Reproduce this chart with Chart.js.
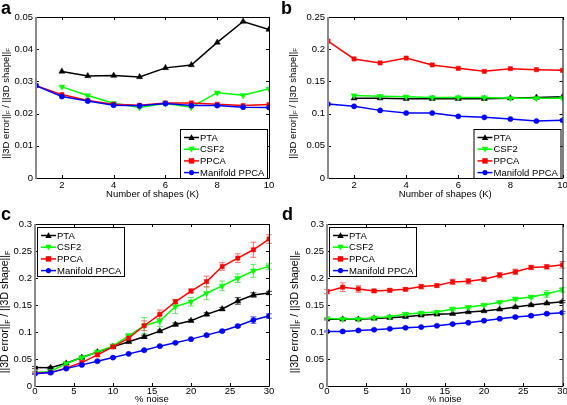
<!DOCTYPE html>
<html>
<head>
<meta charset="utf-8">
<script src="https://cdn.jsdelivr.net/npm/chart.js@4.4.1/dist/chart.umd.min.js"></script>
<style>
  body { margin: 0; width: 567px; height: 405px; position: relative; overflow: hidden; background: #fff;
         font-family: "Liberation Sans", Arial, sans-serif; color: #000; }
  .panel { position: absolute; }
  .tag { position: absolute; font-weight: bold; font-size: 18px; line-height: 16px; }
  .ytitle { position: absolute; width: 170px; text-align: center; white-space: nowrap;
            transform: rotate(-90deg); transform-origin: 50% 50%; }
  .ytitle sub { font-size: 65%; vertical-align: -0.3em; }
</style>
</head>
<body>
<div class="panel" style="left:0;top:0"><canvas id="chartA" width="283" height="200"></canvas></div>
<div class="panel" style="left:283px;top:0"><canvas id="chartB" width="284" height="200"></canvas></div>
<div class="panel" style="left:0;top:200px"><canvas id="chartC" width="283" height="205"></canvas></div>
<div class="panel" style="left:283px;top:200px"><canvas id="chartD" width="284" height="205"></canvas></div>

<div class="tag" style="left:1px;top:0">a</div>
<div class="tag" style="left:281px;top:0">b</div>
<div class="tag" style="left:1px;top:206px">c</div>
<div class="tag" style="left:282px;top:206px">d</div>

<div class="ytitle" style="left:-78px;top:96px;font-size:9.5px;line-height:12px">||3D error||<sub>F</sub> / ||3D shape||<sub>F</sub></div>
<div class="ytitle" style="left:209px;top:96px;font-size:9.5px;line-height:12px">||3D error||<sub>F</sub> / ||3D shape||<sub>F</sub></div>
<div class="ytitle" style="left:-79px;top:304px;font-size:10.5px;line-height:12px">||3D error||<sub>F</sub> / ||3D shape||<sub>F</sub></div>
<div class="ytitle" style="left:211px;top:304px;font-size:10.5px;line-height:12px">||3D error||<sub>F</sub> / ||3D shape||<sub>F</sub></div>

<script>
const methodNames = ["PTA", "CSF2", "PPCA", "Manifold PPCA"];
const methodColors = ["#000000", "#00ff00", "#ff0000", "#0000ff"];
const methodMarkers = ["up", "down", "square", "circle"];

const shapesK = [1, 2, 3, 4, 5, 6, 7, 8, 9, 10];
const noiseLevels = [0, 2, 4, 6, 8, 10, 12, 14, 16, 18, 20, 22, 24, 26, 28, 30];
const shapesTicks = [2, 4, 6, 8, 10];
const noiseTicks = [0, 5, 10, 15, 20, 25, 30];
const aYTicks = [0, 0.01, 0.02, 0.03, 0.04, 0.05];
const bYTicks = [0, 0.05, 0.1, 0.15, 0.2, 0.25];
const cdYTicks = [0, 0.05, 0.1, 0.15, 0.2, 0.25, 0.3];

// panel a: error vs number of shapes
const aPta = [null, 0.0331, 0.0317, 0.0318, 0.0314, 0.0342, 0.0351, 0.0421, 0.0486, 0.0461];
const aCsf2 = [null, 0.0283, 0.0256, 0.0232, 0.0219, 0.0231, 0.0220, 0.0265, 0.0257, 0.0277];
const aPpca = [0.0287, 0.0259, 0.0241, 0.0229, 0.0226, 0.0233, 0.0233, 0.0229, 0.0225, 0.0228];
const aManifold = [0.0287, 0.0253, 0.0239, 0.0226, 0.0224, 0.0231, 0.0225, 0.0225, 0.0220, 0.0219];

// panel b
const bPta = [null, 0.124, 0.124, 0.123, 0.123, 0.123, 0.123, 0.124, 0.125, 0.126];
const bCsf2 = [null, 0.128, 0.127, 0.126, 0.125, 0.125, 0.125, 0.124, 0.124, 0.124];
const bPpca = [0.2127, 0.1848, 0.1786, 0.1863, 0.1755, 0.1703, 0.1656, 0.1698, 0.1682, 0.1672];
const bManifold = [0.1149, 0.1113, 0.1050, 0.1009, 0.1009, 0.0958, 0.0942, 0.0916, 0.0885, 0.0895];

// panel c: error vs % noise (with std error bars)
const cPta = [0.0341, 0.034, 0.042, 0.0527, 0.063, 0.0725, 0.0818, 0.0911, 0.1017, 0.114, 0.121, 0.1327, 0.1426, 0.1575, 0.1686, 0.1723];
const cCsf2 = [0.0248, 0.027, 0.0415, 0.0527, 0.063, 0.0744, 0.093, 0.1116, 0.1203, 0.147, 0.156, 0.1717, 0.1854, 0.1996, 0.2132, 0.2213];
const cPpca = [0.0242, 0.0248, 0.0335, 0.0434, 0.0577, 0.0725, 0.0887, 0.1116, 0.1327, 0.156, 0.1759, 0.1934, 0.2213, 0.2368, 0.2523, 0.2722];
const cManifold = [0.0229, 0.0248, 0.0322, 0.0391, 0.0459, 0.0527, 0.0595, 0.0663, 0.0738, 0.08, 0.0868, 0.0942, 0.1017, 0.111, 0.1221, 0.1296];
const cPtaErr = [0.002, 0.002, 0.002, 0.002, 0.002, 0.002, 0.002, 0.003, 0.002, 0.003, 0.002, 0.003, 0.003, 0.006, 0.004, 0.003];
const cCsf2Err = [0.002, 0.002, 0.002, 0.003, 0.003, 0.003, 0.004, 0.015, 0.01, 0.013, 0.008, 0.012, 0.009, 0.008, 0.012, 0.006];
const cPpcaErr = [0.002, 0.002, 0.002, 0.003, 0.003, 0.003, 0.003, 0.009, 0.008, 0.004, 0.004, 0.01, 0.007, 0.008, 0.014, 0.008];
const cManifoldErr = [0.001, 0.001, 0.001, 0.001, 0.001, 0.001, 0.001, 0.001, 0.001, 0.001, 0.001, 0.002, 0.002, 0.002, 0.006, 0.004];

// panel d
const dPta = [0.1234, 0.1234, 0.1234, 0.1252, 0.1265, 0.1283, 0.1308, 0.1327, 0.1339, 0.137, 0.1389, 0.142, 0.1463, 0.15, 0.1531, 0.1562];
const dCsf2 = [0.1252, 0.124, 0.124, 0.1265, 0.1283, 0.1333, 0.1352, 0.137, 0.1426, 0.1457, 0.15, 0.155, 0.1612, 0.1649, 0.1705, 0.178];
const dPpca = [0.1748, 0.183, 0.1797, 0.176, 0.1773, 0.1791, 0.1841, 0.186, 0.1928, 0.194, 0.1977, 0.2052, 0.2114, 0.2195, 0.2207, 0.2244];
const dManifold = [0.101, 0.101, 0.1029, 0.1042, 0.106, 0.1079, 0.1091, 0.1116, 0.1147, 0.1172, 0.1209, 0.1246, 0.1277, 0.1302, 0.1339, 0.1358];
const dPtaErr = [0.001, 0.001, 0.001, 0.001, 0.001, 0.001, 0.001, 0.001, 0.001, 0.001, 0.001, 0.002, 0.002, 0.002, 0.002, 0.002];
const dCsf2Err = [0.002, 0.002, 0.002, 0.002, 0.002, 0.002, 0.002, 0.002, 0.003, 0.003, 0.002, 0.002, 0.003, 0.003, 0.006, 0.004];
const dPpcaErr = [0.004, 0.008, 0.006, 0.003, 0.003, 0.003, 0.004, 0.003, 0.005, 0.005, 0.004, 0.005, 0.005, 0.004, 0.004, 0.006];
const dManifoldErr = [0.001, 0.001, 0.001, 0.001, 0.001, 0.001, 0.001, 0.001, 0.001, 0.001, 0.001, 0.001, 0.002, 0.002, 0.002, 0.002];

const FONT = "Liberation Sans, Arial, sans-serif";

function drawMarker(ctx, kind, x, y, r) {
    ctx.beginPath();
    if (kind === "up") {
        ctx.moveTo(x, y - r); ctx.lineTo(x + r, y + r * 0.8); ctx.lineTo(x - r, y + r * 0.8);
    } else if (kind === "down") {
        ctx.moveTo(x, y + r); ctx.lineTo(x + r, y - r * 0.8); ctx.lineTo(x - r, y - r * 0.8);
    } else if (kind === "square") {
        ctx.rect(x - r * 0.85, y - r * 0.85, r * 1.7, r * 1.7);
    } else {
        ctx.arc(x, y, r * 0.8, 0, Math.PI * 2);
    }
    ctx.closePath();
    ctx.fill();
}

// frame, inward ticks, error bars and the boxed legend
const decorPlugin = {
    id: "decor",
    beforeDatasetsDraw(chart) {
        const ctx = chart.ctx;
        const y = chart.scales.y;
        ctx.save();
        chart.data.datasets.forEach((ds, di) => {
            if (!ds.errs) return;
            const meta = chart.getDatasetMeta(di);
            ctx.strokeStyle = ds.errColor;
            ctx.lineWidth = 1;
            ds.data.forEach((p, i) => {
                const e = ds.errs[i];
                if (!e) return;
                const px = meta.data[i].x;
                const top = y.getPixelForValue(p.y + e);
                const bot = y.getPixelForValue(p.y - e);
                ctx.beginPath();
                ctx.moveTo(px, top); ctx.lineTo(px, bot);
                ctx.moveTo(px - 3, top); ctx.lineTo(px + 3, top);
                ctx.moveTo(px - 3, bot); ctx.lineTo(px + 3, bot);
                ctx.stroke();
            });
        });
        ctx.restore();
    },
    afterDraw(chart, args, opts) {
        const ctx = chart.ctx;
        const a = chart.chartArea;
        const xs = chart.scales.x, ys = chart.scales.y;
        ctx.save();
        // box
        ctx.strokeStyle = "#000";
        ctx.lineWidth = 1;
        ctx.beginPath();
        ctx.moveTo(a.left, a.top + 0.5); ctx.lineTo(a.right + 0.5, a.top + 0.5);
        ctx.lineTo(a.right + 0.5, a.bottom + 0.5); ctx.lineTo(a.left, a.bottom + 0.5);
        ctx.stroke();
        // inward ticks
        ctx.beginPath();
        xs.ticks.forEach(t => {
            const px = Math.round(xs.getPixelForValue(t.value)) + 0.5;
            ctx.moveTo(px, a.bottom); ctx.lineTo(px, a.bottom - 3);
            ctx.moveTo(px, a.top); ctx.lineTo(px, a.top + 3);
        });
        ys.ticks.forEach(t => {
            const py = Math.round(ys.getPixelForValue(t.value)) + 0.5;
            ctx.moveTo(a.left, py); ctx.lineTo(a.left + 3, py);
            ctx.moveTo(a.right, py); ctx.lineTo(a.right - 3, py);
        });
        ctx.stroke();
        // grey left axis
        ctx.strokeStyle = "#8a8a8a";
        ctx.lineWidth = 2;
        ctx.beginPath();
        ctx.moveTo(a.left, a.top); ctx.lineTo(a.left, a.bottom + 1);
        ctx.stroke();

        // legend box
        const w = 87, h = 49;
        const bx = opts.corner === "br" ? a.right - 2 - w : a.left + 2;
        const by = opts.corner === "br" ? a.bottom - h : a.top + 3;
        ctx.fillStyle = "#fff";
        ctx.fillRect(bx, by, w, h);
        ctx.strokeStyle = "#000";
        ctx.lineWidth = 1;
        ctx.strokeRect(bx + 0.5, by + 0.5, w, h);
        ctx.font = "9.5px " + FONT;
        ctx.textBaseline = "middle";
        methodNames.forEach((name, i) => {
            const ry = by + 8.5 + i * 11.7;
            ctx.strokeStyle = methodColors[i];
            ctx.fillStyle = methodColors[i];
            ctx.lineWidth = 1.5;
            ctx.beginPath();
            ctx.moveTo(bx + 4, ry); ctx.lineTo(bx + 19, ry);
            ctx.stroke();
            drawMarker(ctx, methodMarkers[i], bx + 11.5, ry, 3.2);
            ctx.fillStyle = "#000";
            ctx.fillText(name, bx + 20, ry + 0.5);
        });
        ctx.restore();
    }
};

function makeSeries(xVals, lists, errLists) {
    return lists.map((vals, i) => {
        const pts = [];
        xVals.forEach((x, j) => { if (vals[j] !== null) pts.push({ x: x, y: vals[j] }); });
        const errs = errLists ? errLists[i].filter((e, j) => vals[j] !== null) : null;
        return {
            label: methodNames[i],
            data: pts,
            errs: errs,
            errColor: ["rgba(0,0,0,0.75)", "rgba(60,230,60,0.8)", "rgba(245,80,80,0.8)", "rgba(40,40,255,0.8)"][i],
            borderColor: methodColors[i],
            backgroundColor: methodColors[i],
            borderWidth: 1.5,
            pointStyle: ["triangle", "triangle", "rect", "circle"][i],
            rotation: i === 1 ? 180 : 0,
            pointRadius: [3.5, 3.5, 3, 2.6][i],
            pointBorderWidth: 0.5,
            order: 3 - i,
            tension: 0
        };
    });
}

function buildPanel(id, p) {
    const tickFont = { family: FONT, size: 9.5 };
    new Chart(document.getElementById(id), {
        type: "line",
        data: { datasets: p.datasets },
        options: {
            responsive: false,
            animation: false,
            events: [],
            layout: { padding: { top: p.padTop, right: p.padRight, left: 0, bottom: 0 } },
            plugins: {
                legend: { display: false },
                tooltip: { enabled: false },
                decor: { corner: p.corner }
            },
            scales: {
                x: {
                    type: "linear",
                    min: p.xMin, max: p.xMax,
                    grid: { display: false, drawTicks: false },
                    border: { display: false },
                    afterBuildTicks: s => { s.ticks = p.xTicks.map(v => ({ value: v })); },
                    afterFit: s => { s.height = p.xHeight; s.paddingLeft = 0; s.paddingRight = 0; },
                    ticks: { font: tickFont, color: "#000", padding: p.xPad, maxRotation: 0, callback: v => String(v) },
                    title: { display: true, text: p.xTitle, font: { family: FONT, size: 9.5 }, color: "#000", padding: 0 }
                },
                y: {
                    min: 0, max: p.yTicks[p.yTicks.length - 1],
                    grid: { display: false, drawTicks: false },
                    border: { display: false },
                    afterBuildTicks: s => { s.ticks = p.yTicks.map(v => ({ value: v })); },
                    afterFit: s => { s.width = p.yWidth; s.paddingTop = 0; s.paddingBottom = 0; },
                    ticks: { font: tickFont, color: "#000", padding: 3, callback: v => String(v) }
                }
            }
        },
        plugins: [decorPlugin]
    });
}

buildPanel("chartA", {
    datasets: makeSeries(shapesK, [aPta, aCsf2, aPpca, aManifold]),
    xMin: 1, xMax: 10, xTicks: shapesTicks, yTicks: aYTicks,
    xTitle: "Number of shapes (K)", corner: "br",
    yWidth: 36, xHeight: 22, padTop: 17, padRight: 14, xPad: 2
});
buildPanel("chartB", {
    datasets: makeSeries(shapesK, [bPta, bCsf2, bPpca, bManifold]),
    xMin: 1, xMax: 10, xTicks: shapesTicks, yTicks: bYTicks,
    xTitle: "Number of shapes (K)", corner: "br",
    yWidth: 45, xHeight: 22, padTop: 17, padRight: 4, xPad: 2
});
buildPanel("chartC", {
    datasets: makeSeries(noiseLevels, [cPta, cCsf2, cPpca, cManifold], [cPtaErr, cCsf2Err, cPpcaErr, cManifoldErr]),
    xMin: 0, xMax: 30, xTicks: noiseTicks, yTicks: cdYTicks,
    xTitle: "% noise", corner: "tl",
    yWidth: 35, xHeight: 19, padTop: 24, padRight: 14, xPad: 0
});
buildPanel("chartD", {
    datasets: makeSeries(noiseLevels, [dPta, dCsf2, dPpca, dManifold], [dPtaErr, dCsf2Err, dPpcaErr, dManifoldErr]),
    xMin: 0, xMax: 30, xTicks: noiseTicks, yTicks: cdYTicks,
    xTitle: "% noise", corner: "tl",
    yWidth: 44, xHeight: 19, padTop: 24, padRight: 4, xPad: 0
});
</script>
</body>
</html>
